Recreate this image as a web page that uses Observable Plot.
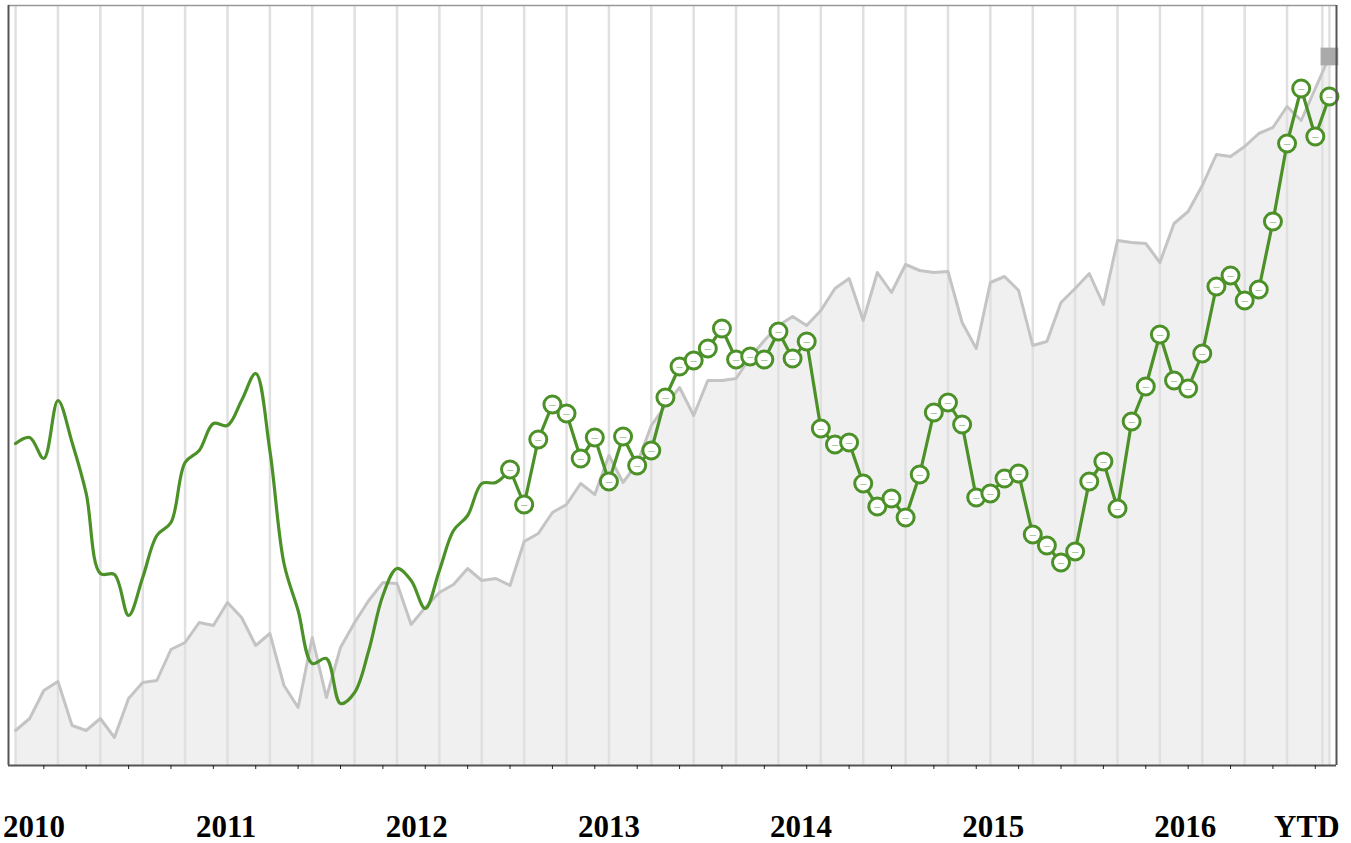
<!DOCTYPE html>
<html><head><meta charset="utf-8">
<script src="https://cdn.jsdelivr.net/npm/d3@7"></script>
<script src="https://cdn.jsdelivr.net/npm/@observablehq/plot@0.6"></script>
<style>html,body{margin:0;padding:0;background:#fff;} #chart svg{display:block}</style>
</head><body><div id="chart"></div>
<script>
// Monthly index values (month 0 = Jan 2010 ... month 93 = YTD)
const benchmark = [35,47,75,84,40,35,47,28,67,83, 85,116,123,143,140,163,148,120,132,80,
  58,128,68,118,143,165,183,182,141,158, 173,181,197,185,187,180,224,232,253,261,
  282,271,310,283,302,340,360,378,350,385, 385,387,408,425,440,449,440,455,477,487,
  445,493,473,501,495,493,494,443,417,483, 489,475,420,424,463,477,492,461,525,523,
  522,503,542,554,580,611,609,619,632,638, 659,645,677,709];
const fund = [322,328,307,365,323,272,192,191,150,188, 230,243,303,315,342,340,365,392,315,202,
  155,102,107,62,73,115,170,197,185,157, 195,235,250,282,283,296,261,326,361,352,
  307,328,284,329,300,315,368,399,405,417, 437,406,409,406,434,407,424,337,321,323,
  282,259,267,248,291,353,363,341,268,272, 287,292,231,220,203,214,284,304,257,344,
  379,431,385,377,412,479,490,465,476,544, 622,677,629,669];
const markerStart = 35;
const periodLabels = ["2010","2011","2012","2013","2014","2015","2016","YTD"];
const periodLabelAt = [1.3, 14.9, 28.4, 42.0, 55.6, 69.2, 82.8, 91.4];
const gridMonths = [0,3,6,9,12,15,18,21,24,27,30,33,36,39,42,45,48,51,54,57,60,63,66,69,72,75,78,81,84,87,90,92.5,93];
const tickMonths = [2,5,8,11,14,17,20,23,26,29,32,35,38,41,44,47,50,53,56,59,62,65,68,71,74,77,80,83,86,89,92];

const green = "#4b9128";
const benchRows = benchmark.map((v, i) => ({i, v}));
const fundRows = fund.map((v, i) => ({i, v}));
const smooth = fundRows.slice(0, markerStart + 1);
const marked = fundRows.slice(markerStart);
const last = benchRows[benchRows.length - 1];

const chart = Plot.plot({
  width: 1351, height: 843,
  marginTop: 5, marginBottom: 78, marginLeft: 8, marginRight: 15,
  x: {domain: [-0.5, 93.5], label: null},
  y: {domain: [0, 760], axis: null},
  marks: [
    Plot.areaY(benchRows, {x: "i", y: "v", fill: "#f0f0f0"}),
    Plot.gridX(gridMonths, {stroke: "#e0e0e0", strokeOpacity: 1, strokeWidth: 2.5}),
    Plot.lineY(benchRows, {x: "i", y: "v", stroke: "#c4c4c4", strokeWidth: 3}),
    Plot.dot([last], {x: "i", y: "v", symbol: "square", r: 10, fill: "#aaaaaa"}),
    Plot.lineY(smooth, {x: "i", y: "v", stroke: green, strokeWidth: 3.2, curve: "catmull-rom"}),
    Plot.lineY(marked, {x: "i", y: "v", stroke: green, strokeWidth: 3.2}),
    Plot.dot(marked, {x: "i", y: "v", r: 8.5, fill: "white", stroke: green, strokeWidth: 3}),
    Plot.text(marked, {x: "i", y: "v", text: () => "—", fontSize: 7, fill: "#7fae6c"}),
    Plot.ruleY([760], {stroke: "#999", strokeWidth: 1.5}),
    Plot.ruleX([-0.5], {stroke: "#555", strokeWidth: 2}),
    Plot.ruleX([93.5], {stroke: "#555", strokeWidth: 2}),
    Plot.ruleY([0], {stroke: "#555", strokeWidth: 2}),
    Plot.axisX(tickMonths, {tickSize: 4, tickFormat: () => "", stroke: "#222"}),
    Plot.text(periodLabels, {
      x: (d, i) => periodLabelAt[i], frameAnchor: "bottom", lineAnchor: "bottom", dy: 71,
      text: d => d, fontSize: 31, fontWeight: "bold", fontFamily: "Liberation Serif", fill: "#000"
    })
  ]
});
document.getElementById("chart").append(chart);
</script>
</body></html>
